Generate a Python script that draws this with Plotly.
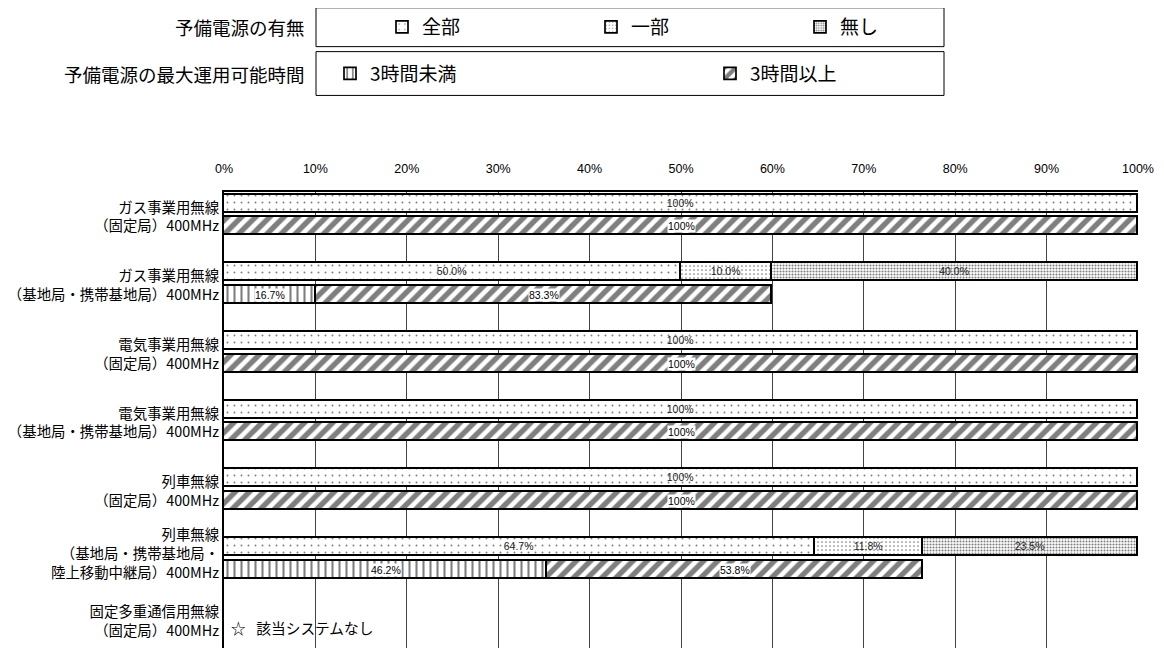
import plotly.graph_objects as go

# ------------------------------------------------------------------
# Data
# ------------------------------------------------------------------
categories = [
    "ガス事業用無線\n（固定局）400MHz",
    "ガス事業用無線\n（基地局・携帯基地局）400MHz",
    "電気事業用無線\n（固定局）400MHz",
    "電気事業用無線\n（基地局・携帯基地局）400MHz",
    "列車無線\n（固定局）400MHz",
    "列車無線\n（基地局・携帯基地局・\n陸上移動中継局）400MHz",
    "固定多重通信用無線\n（固定局）400MHz",
]

# 予備電源の有無 (%), one value per category that has data
power_all = [100.0, 50.0, 100.0, 100.0, 100.0, 64.7]
power_part = [0.0, 10.0, 0.0, 0.0, 0.0, 11.8]
power_none = [0.0, 40.0, 0.0, 0.0, 0.0, 23.5]

# 予備電源の最大運用可能時間 (% of stations that have backup power)
hours_under3 = [0.0, 16.7, 0.0, 0.0, 0.0, 46.2]
hours_over3 = [100.0, 83.3, 100.0, 100.0, 100.0, 53.8]

no_system_note = "☆ \u2002該当システムなし"
x_ticks = [0, 10, 20, 30, 40, 50, 60, 70, 80, 90, 100]

# ------------------------------------------------------------------
# Layout helpers
# ------------------------------------------------------------------
# the page body has the default 8px margin, so the figure is drawn
# 8px smaller and every pixel position is measured on the screen
PAGE = 8
SW, SH = 1164, 648
W, H = SW - PAGE, SH - PAGE
PLOT_X0, PLOT_X1, PLOT_Y0 = 224, 1138, 190      # screen pixels
L, R, T, B = PLOT_X0 - PAGE, SW - PLOT_X1, PLOT_Y0 - PAGE, 0
PW, PH = W - L - R, H - T - B


def px_x(x):
    return (x - PAGE - L) / PW


def px_y(y):
    return (H - B - (y - PAGE)) / PH


def fmt(v):
    return "100%" if v == 100 else f"{v:.1f}%"


def nz(values):
    return [v if v else None for v in values]


FONT = "Noto Sans CJK JP, Noto Sans, sans-serif"
NUM_FONT = "Liberation Sans Narrow, Liberation Sans, Arial, sans-serif"
OFF = 0.165
BAR_W = 0.26
OUTLINE = dict(color="black", width=1.7)
ROW_PX = 69

rows = list(range(1, len(categories) + 1))
data_rows = rows[: len(power_all)]
y_power = [r - OFF for r in data_rows]
y_hours = [r + OFF for r in data_rows]

# time bars are drawn on the scale of stations that have backup power
scale = [(a + p) / 100 for a, p in zip(power_all, power_part)]


# vertical nudge of the multi-line category labels
def label_pos(r, text):
    n = text.count("\n") + 1
    if r not in data_rows:
        return r - 0.08
    return r - 0.065 if n == 3 else r + 0.03


fig = go.Figure()

power_series = [
    ("全部", power_all, dict(shape=".", size=7, solidity=0.06)),
    ("一部", power_part, dict(shape=".", size=4, solidity=0.15)),
    ("無し", power_none, dict(shape=".", size=3, solidity=0.38)),
]
for name, vals, pat in power_series:
    fig.add_trace(go.Bar(
        name=name, y=y_power, x=nz(vals), orientation="h", width=BAR_W,
        marker=dict(color="white", line=OUTLINE,
                    pattern=dict(fgcolor="black", bgcolor="white", **pat)),
        text=[fmt(v) if v else "" for v in vals],
        textposition="inside", insidetextanchor="middle", textangle=0,
        constraintext="none",
        textfont=dict(family=NUM_FONT, size=10.5, color="#222"),
        legend="legend", hoverinfo="skip",
    ))

hours_series = [
    ("3時間未満", hours_under3, dict(shape="|", size=7, solidity=0.3)),
    ("3時間以上", hours_over3, dict(shape="/", size=10, solidity=0.54)),
]
start = [0.0] * len(data_rows)
for name, vals, pat in hours_series:
    lengths = [v * s for v, s in zip(vals, scale)]
    fig.add_trace(go.Bar(
        name=name, y=y_hours, x=nz(lengths), orientation="h", width=BAR_W,
        marker=dict(color="white", line=OUTLINE,
                    pattern=dict(fgcolor="black", bgcolor="white", **pat)),
        legend="legend2", hoverinfo="skip",
    ))
    for i, (v, ln) in enumerate(zip(vals, lengths)):
        if v:
            fig.add_annotation(
                x=start[i] + ln / 2, y=y_hours[i], xref="x", yref="y",
                text=fmt(v), showarrow=False, bgcolor="white", borderpad=0,
                font=dict(family=NUM_FONT, size=10.5, color="black"),
            )
        start[i] += ln

# note for the category without data
fig.add_annotation(
    x=0, y=rows[-1], xref="x", yref="y", xanchor="left", xshift=5,
    text=no_system_note, showarrow=False,
    font=dict(family=FONT, size=14.7, color="black"),
)

# ------------------------------------------------------------------
# Legend boxes and titles
# ------------------------------------------------------------------
for y0, y1, title in [(5, 44, "予備電源の有無"), (49, 93, "予備電源の最大運用可能時間")]:
    fig.add_shape(type="rect", xref="paper", yref="paper",
                  x0=px_x(316), x1=px_x(944), y0=px_y(y1), y1=px_y(y0),
                  line=dict(color="black", width=1), fillcolor="white")
    fig.add_annotation(x=px_x(307), y=px_y((y0 + y1) / 2), xref="paper", yref="paper",
                       xanchor="right", yanchor="middle", showarrow=False,
                       text=title, font=dict(family=FONT, size=18.5, color="black"))

legend_common = dict(orientation="h", xanchor="left", yanchor="middle",
                     bgcolor="rgba(0,0,0,0)", borderwidth=0, traceorder="normal",
                     font=dict(family=FONT, size=19, color="black"))

fig.update_layout(
    width=W, height=H,
    margin=dict(l=L, r=R, t=T, b=B, pad=0),
    paper_bgcolor="white", plot_bgcolor="white",
    barmode="stack", bargap=0,
    showlegend=True,
    legend=dict(x=px_x(382), y=px_y(24), entrywidth=164, **legend_common),
    legend2=dict(x=px_x(330), y=px_y(71), entrywidth=335, **legend_common),
    font=dict(family=FONT, color="black"),
    xaxis=dict(
        side="top", range=[0, 100], tickvals=x_ticks,
        ticktext=[f"{t}%" for t in x_ticks],
        tickfont=dict(family=NUM_FONT, size=12.5, color="black"),
        ticks="", ticklabelstandoff=12, automargin=False,
        showgrid=True, gridcolor="#444", gridwidth=1, zeroline=False,
        showline=True, linecolor="black", linewidth=1.5, mirror=False,
    ),
    yaxis=dict(
        range=[7 + 21 / ROW_PX, 1 - 23 / ROW_PX], autorange=False, automargin=False,
        tickvals=[label_pos(r, c) for r, c in zip(rows, categories)],
        ticktext=[c.replace("\n", "<br>") for c in categories],
        tickfont=dict(family=FONT, size=14.4, color="black"),
        ticks="", showgrid=False, zeroline=False,
        showline=True, linecolor="black", linewidth=2,
    ),
)

fig.write_html("out.html")
